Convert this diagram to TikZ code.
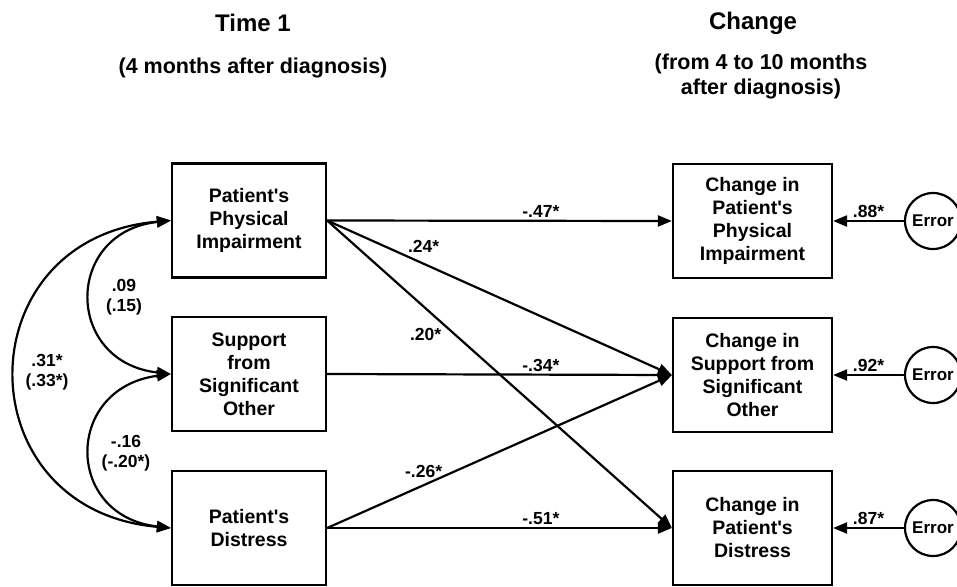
\documentclass[tikz,border=0pt]{standalone}
\usepackage{fontspec}
\setmainfont{Liberation Sans}
\usetikzlibrary{arrows.meta}
\begin{document}
\begin{tikzpicture}[x=1pt, y=-1pt, line width=2.2pt, >={Triangle[length=14pt,width=11pt]},
  var/.style={draw, line width=2.2pt, minimum width=154pt, minimum height=114pt, align=center, inner sep=0pt, font=\bfseries\fontsize{19.5}{23}\selectfont},
  err/.style={draw, circle, line width=2.2pt, minimum size=56pt, inner sep=0pt, font=\bfseries\fontsize{17}{20}\selectfont},
  coef/.style={font=\bfseries\fontsize{17.5}{20.5}\selectfont, inner sep=2pt, align=center}]
\useasboundingbox (0,0) rectangle (957,586);
% column headings
\node[font=\bfseries\fontsize{24}{28}\selectfont] (t1) at (253,23) {Time 1};
\node[font=\bfseries\fontsize{21.5}{25}\selectfont] (t1sub) at (253,68) {(4 months after diagnosis)};
\node[font=\bfseries\fontsize{24}{28}\selectfont] (ch) at (753,23) {Change};
\node[font=\bfseries\fontsize{21.5}{25}\selectfont, align=center] (chsub) at (761,76) {(from 4 to 10 months\\after diagnosis)};
% time 1 variables
\node[var] (pi) at (249,220.5) {Patient\textquotesingle s\\Physical\\Impairment};
\node[var] (sup) at (249,374) {Support\\from\\Significant\\Other};
\node[var] (dis) at (249,528) {Patient\textquotesingle s\\Distress};
% change variables
\node[var, minimum width=159pt] (cpi) at (752.5,221) {Change in\\Patient\textquotesingle s\\Physical\\Impairment};
\node[var, minimum width=159pt] (csup) at (752.5,375) {Change in\\Support from\\Significant\\Other};
\node[var, minimum width=159pt] (cdis) at (752.5,528) {Change in\\Patient\textquotesingle s\\Distress};
% residuals
\node[err] (e1) at (933,221) {Error}; \node[err] (e2) at (933,375) {Error}; \node[err] (e3) at (933,528) {Error};
% correlations
\draw[<->] (pi.west) .. controls (-36,238) and (-36,510) .. (dis.west);
\draw[<->] (pi.west) .. controls (64,232) and (64,362) .. (sup.west);
\draw[<->] (sup.west) .. controls (64,388) and (64,516) .. (dis.west);
\node[coef] (r13) at (47,372) {.31*\\(.33*)}; \node[coef] (r12) at (124,297) {.09\\(.15)}; \node[coef] (r23) at (126,453) {-.16\\(-.20*)};
% paths
\draw[->] (pi.east) -- (cpi.west) node[coef, pos=0.62, above] {-.47*};
\draw[->] (pi.east) -- (csup.west) node[coef, pos=0.28, above=8pt] {.24*};
\draw[->] (pi.east) -- (cdis.west) node[coef, pos=0.34, below left] {.20*};
\draw[->] (sup.east) -- (csup.west) node[coef, pos=0.62, above] {-.34*};
\draw[->] (dis.east) -- (csup.west) node[coef, pos=0.28, above=4pt] {-.26*};
\draw[->] (dis.east) -- (cdis.west) node[coef, pos=0.62, above] {-.51*};
\draw[->] (e1) -- (cpi.east) node[coef, midway, above] {.88*};
\draw[->] (e2) -- (csup.east) node[coef, midway, above] {.92*};
\draw[->] (e3) -- (cdis.east) node[coef, midway, above] {.87*};
\end{tikzpicture}
\end{document}
